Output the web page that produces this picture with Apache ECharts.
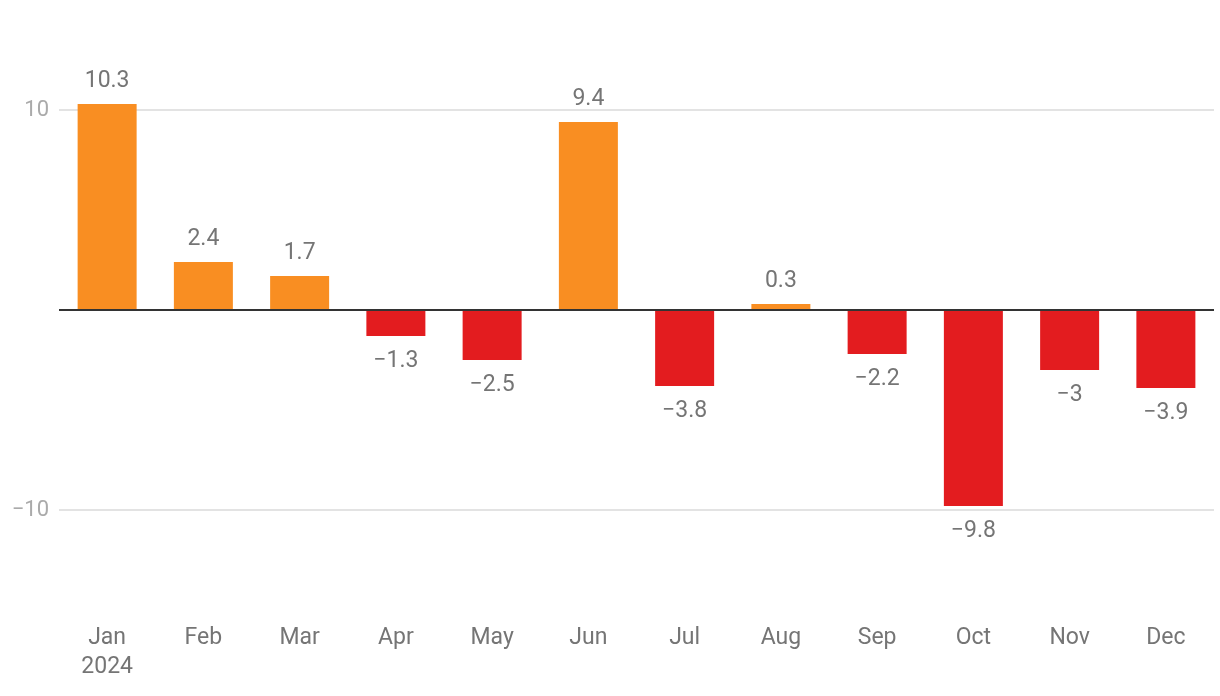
<!DOCTYPE html>
<html>
<head>
<meta charset="utf-8">
<script src="https://cdn.jsdelivr.net/npm/echarts@6/dist/echarts.min.js"></script>
<style>
html,body{margin:0;padding:0;background:#fff;}
#chart{width:1220px;height:696px;}
</style>
</head>
<body>
<div id="chart"></div>
<script>
const categories = ['Jan\n2024','Feb','Mar','Apr','May','Jun','Jul','Aug','Sep','Oct','Nov','Dec'];
const values = [10.3, 2.4, 1.7, -1.3, -2.5, 9.4, -3.8, 0.3, -2.2, -9.8, -3, -3.9];
const yTickLabels = [-10, 10];

const POS = '#F98E22';
const NEG = '#E31C1F';
const fmt = v => (v < 0 ? '\u2212' + Math.abs(v) : String(v));

const chart = echarts.init(document.getElementById('chart'));
chart.setOption({
  animation: false,
  textStyle: { fontFamily: 'Roboto' },
  grid: { left: 59, right: 6, top: 10, bottom: 86 },
  xAxis: {
    type: 'category',
    data: categories,
    axisLine: { show: false },
    axisTick: { show: false },
    axisLabel: { color: '#757575', fontSize: 23, lineHeight: 29, margin: 14, fontFamily: 'Roboto' }
  },
  yAxis: {
    type: 'value',
    min: -15, max: 15, interval: 5,
    axisLine: { show: false },
    axisTick: { show: false },
    axisLabel: {
      color: '#aaaaaa', fontSize: 22, margin: 10, fontFamily: 'Roboto',
      formatter: v => (yTickLabels.indexOf(v) >= 0 ? fmt(v) : '')
    },
    splitLine: { lineStyle: { color: ['rgba(0,0,0,0)', '#e3e3e3'], width: 2 } }
  },
  series: [{
    type: 'bar',
    barWidth: 59,
    data: values.map(v => ({
      value: v,
      itemStyle: { color: v >= 0 ? POS : NEG },
      label: { position: v >= 0 ? 'top' : 'bottom', distance: v >= 0 ? 11 : 14 }
    })),
    label: {
      show: true, color: '#757575', fontSize: 23, fontFamily: 'Roboto',
      formatter: p => fmt(p.value)
    },
    markLine: {
      silent: true, symbol: 'none', label: { show: false },
      lineStyle: { color: '#333333', width: 2, type: 'solid' },
      data: [{ yAxis: 0 }]
    }
  }]
});
</script>
</body>
</html>
